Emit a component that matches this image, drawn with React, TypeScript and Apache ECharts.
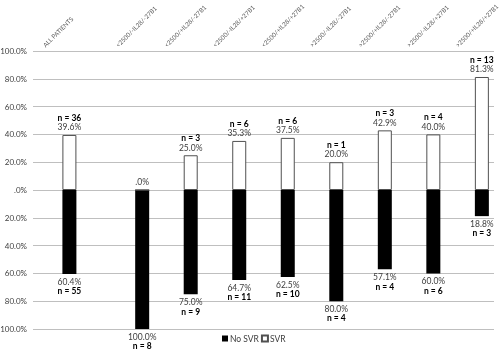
import React, { useEffect, useRef } from "react";
import * as echarts from "echarts";

const categories = [
  "ALL PATIENTS",
  "<2500/-IL28/-27B1",
  "<2500/+IL28/-27B1",
  "<2500/-IL28/+27B1",
  "<2500/+IL28/+27B1",
  ">2500/-IL28/-27B1",
  ">2500/+IL28/-27B1",
  ">2500/-IL28/+27B1",
  ">2500/+IL28/+27B1",
];
const svrPct = [39.6, 0, 25.0, 35.3, 37.5, 20.0, 42.9, 40.0, 81.3];
const svrN: (number | null)[] = [36, null, 3, 6, 6, 1, 3, 4, 13];
const noSvrPct = [60.4, 100.0, 75.0, 64.7, 62.5, 80.0, 57.1, 60.0, 18.8];
const noSvrN = [55, 8, 9, 11, 10, 4, 4, 6, 3];

// category slots on the axis (the first group stands apart from the rest)
const slotIndex = [1, 4, 6, 8, 10, 12, 14, 16, 18];
const slotCount = 19;

const FONT = "Lato";

function fmtPct(v: number) {
  const a = Math.abs(v);
  return a === 0 ? ".0%" : a.toFixed(1) + "%";
}

export default function App() {
  const ref = useRef<HTMLDivElement>(null);
  useEffect(() => {
    if (!ref.current) return;
    const chart = echarts.init(ref.current, undefined, { renderer: "svg" });

    const slotCats: string[] = new Array(slotCount).fill("");
    const svrData: any[] = new Array(slotCount).fill("-");
    const noSvrData: any[] = new Array(slotCount).fill("-");
    const slotToGroup: Record<number, number> = {};
    slotIndex.forEach((s, i) => {
      slotCats[s] = categories[i];
      svrData[s] = svrPct[i];
      noSvrData[s] = -noSvrPct[i];
      slotToGroup[s] = i;
    });

    const rich = {
      n: { fontFamily: FONT, fontSize: 8.5, fontWeight: "bold", color: "#000", lineHeight: 9.5 },
      p: { fontFamily: FONT, fontSize: 8.5, color: "#404040", lineHeight: 9.5 },
    };

    chart.setOption({
      animation: false,
      textStyle: { fontFamily: FONT },
      grid: [
        { left: 33, right: 6, top: 51, bottom: 22, outerBoundsMode: "none", containLabel: false },
        { left: 7.5, right: 31.5, top: 51, bottom: 22, outerBoundsMode: "none", containLabel: false },
      ],
      legend: {
        data: ["No SVR", "SVR"],
        bottom: 3,
        left: 217,
        icon: "rect",
        itemWidth: 6,
        itemHeight: 6,
        itemGap: 2,
        textStyle: { fontFamily: FONT, fontSize: 8.5, color: "#404040", padding: [0, 0, 0, -3] },
      },
      xAxis: [
        {
          type: "category",
          gridIndex: 0,
          data: slotCats,
          axisLine: { show: false },
          axisTick: { show: false },
          axisLabel: { show: false },
        },
        {
          type: "category",
          gridIndex: 1,
          position: "top",
          data: slotCats,
          axisLine: { show: false },
          axisTick: { show: false },
          axisLabel: {
            show: true,
            interval: 0,
            rotate: 45,
            margin: 5,
            hideOverlap: false,
            fontFamily: FONT,
            fontSize: 6.2,
            color: "#595959",
          },
        },
      ],
      yAxis: [
        {
          type: "value",
          gridIndex: 0,
          min: -100,
          max: 100,
          interval: 20,
          axisLine: { show: false },
          axisTick: { show: false },
          axisLabel: {
            margin: 6,
            fontFamily: FONT,
            fontSize: 8,
            color: "#404040",
            formatter: (v: number) => fmtPct(v),
          },
          splitLine: { lineStyle: { color: "#bfbfbf", width: 1 } },
        },
        {
          type: "value",
          gridIndex: 1,
          min: -100,
          max: 100,
          show: false,
          splitLine: { show: false },
        },
      ],
      series: [
        {
          name: "No SVR",
          type: "bar",
          xAxisIndex: 0,
          yAxisIndex: 0,
          barWidth: 14,
          barGap: "-100%",
          data: noSvrData,
          itemStyle: { color: "#000000" },
          label: {
            show: true,
            position: "bottom",
            distance: 3,
            rich,
            formatter: (p: any) => {
              const g = slotToGroup[p.dataIndex];
              return `{p|${fmtPct(noSvrPct[g])}}\n{n|n = ${noSvrN[g]}}`;
            },
          },
        },
        {
          name: "SVR",
          type: "bar",
          xAxisIndex: 0,
          yAxisIndex: 0,
          barWidth: 14,
          barGap: "-100%",
          data: svrData,
          itemStyle: { color: "#ffffff", borderColor: "#505050", borderWidth: 1 },
          label: {
            show: true,
            position: "top",
            distance: 3,
            rich,
            formatter: (p: any) => {
              const g = slotToGroup[p.dataIndex];
              const pct = `{p|${fmtPct(svrPct[g])}}`;
              return svrN[g] == null ? pct : `{n|n = ${svrN[g]}}\n${pct}`;
            },
          },
        },
      ],
    });
    return () => chart.dispose();
  }, []);
  return (
    <div
      ref={ref}
      style={{ position: "fixed", left: 0, top: 0, width: 500, height: 351 }}
    />
  );
}
